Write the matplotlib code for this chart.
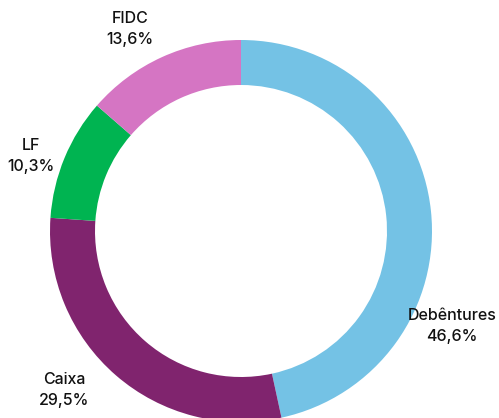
import matplotlib.pyplot as plt

# Composição (%)
categories = ["Debêntures", "Caixa", "LF", "FIDC"]
shares = [46.6, 29.5, 10.3, 13.6]
colors = ["#74C2E5", "#80246E", "#00B451", "#D575C3"]

# label anchors in pixel space (x, y from top)
label_pos = [(452, 326), (64, 390), (31, 156), (130, 29)]

W, H = 499, 418
fig = plt.figure(figsize=(W / 100, H / 100), dpi=100)
ax = fig.add_axes([0, 0, 1, 1])

cx, cy, r = 241, H - 231, 191
ax.pie(shares, colors=colors, startangle=90, counterclock=False,
       center=(cx, cy), radius=r, frame=True,
       wedgeprops=dict(width=45, linewidth=0))
ax.set_xlim(0, W)
ax.set_ylim(0, H)
ax.set_aspect("equal")
ax.axis("off")

for name, val, (x, y) in zip(categories, shares, label_pos):
    txt = f"{name}\n{val:.1f}%".replace(".", ",")
    ax.text(x, H - y, txt, ha="center", va="center", fontsize=11.5,
            family="Inter", fontweight="medium", linespacing=1.5,
            color="#111111")

fig.savefig("out.png", dpi=100)
